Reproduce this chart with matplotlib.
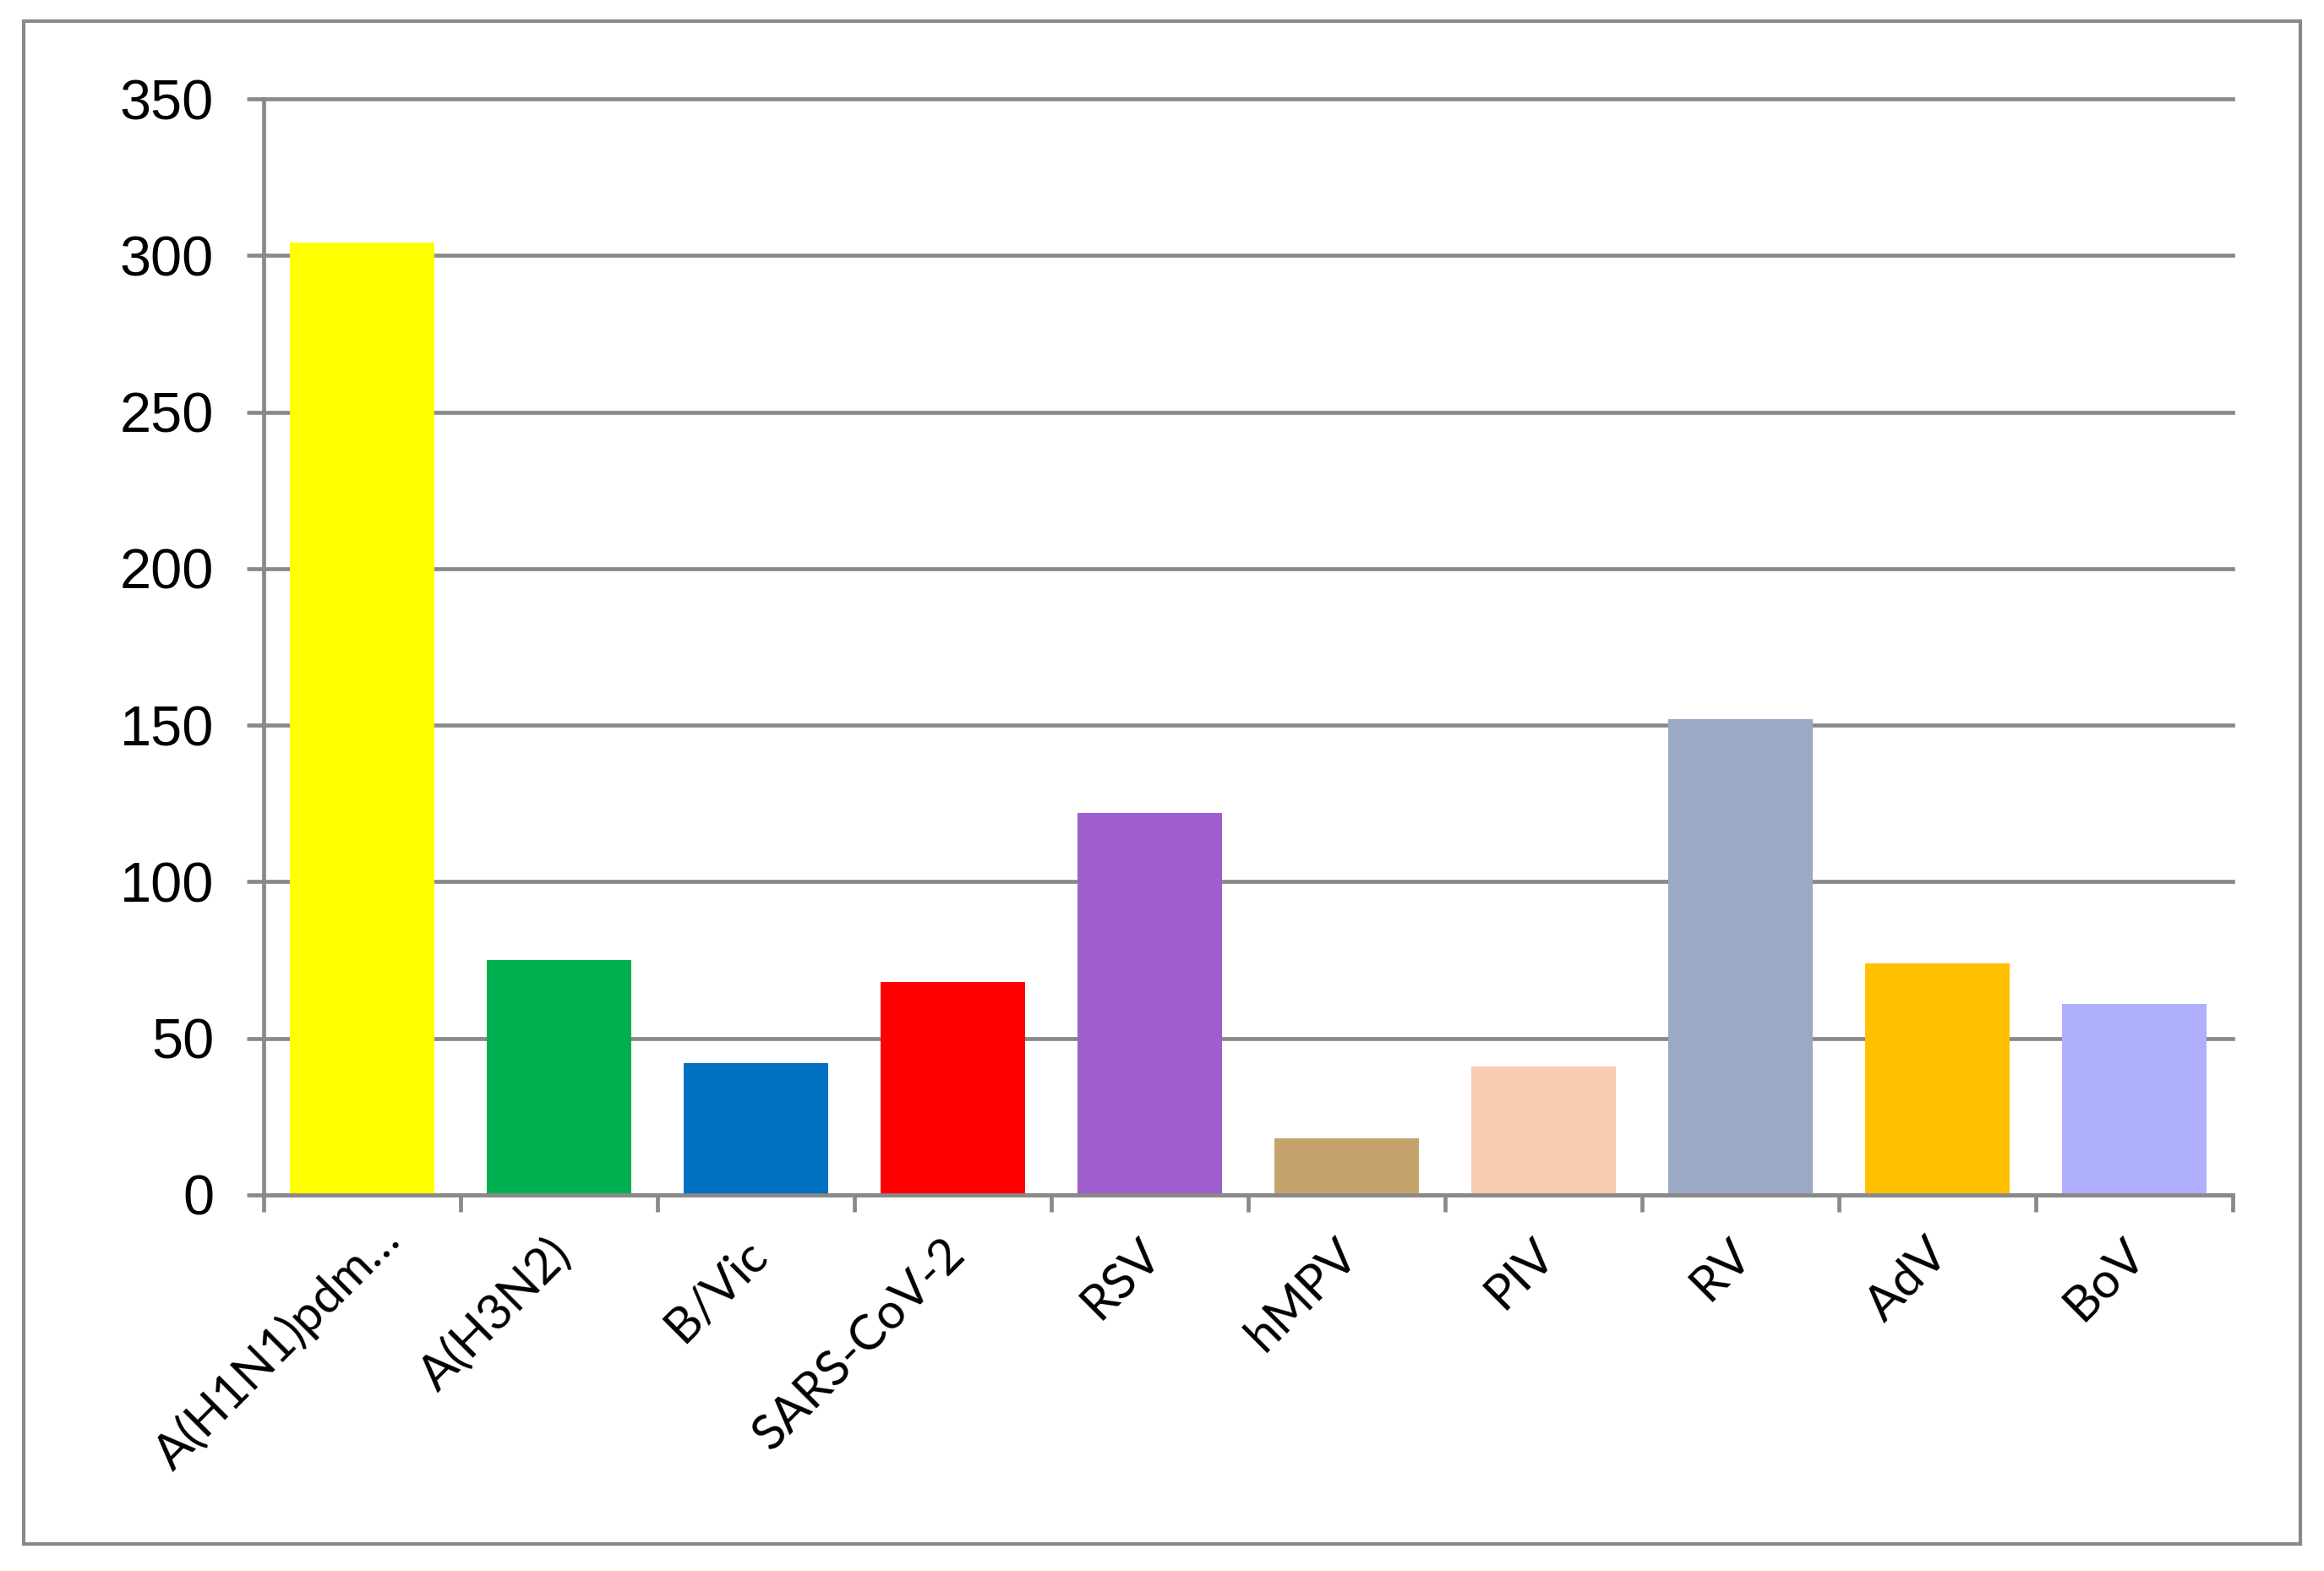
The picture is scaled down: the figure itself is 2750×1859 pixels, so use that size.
import matplotlib
matplotlib.use("Agg")
import matplotlib.pyplot as plt
from matplotlib.patches import Rectangle
from matplotlib.transforms import ScaledTranslation
import numpy as np

categories = ["A(H1N1)pdm…", "A(H3N2)", "B/Vic", "SARS-CoV-2", "RSV",
              "hMPV", "PIV", "RV", "AdV", "BoV"]
values = [304, 75, 42, 68, 122, 18, 41, 152, 74, 61]
colors = ["#FFFF00", "#00B050", "#0070C0", "#FF0000", "#9E5ECD",
          "#C4A46C", "#F7CBAD", "#9CA9C4", "#FFC000", "#AFAFFD"]
yticks = [0, 50, 100, 150, 200, 250, 300, 350]

GRAY = "#898989"
DPI = 200
W, H = 2750, 1859
fig = plt.figure(figsize=(W / DPI, H / DPI), dpi=DPI)
fig.patch.set_facecolor("white")

# outer border
fig.add_artist(Rectangle((28 / W, 1 - 1827 / H), (2722 - 28) / W, (1827 - 25) / H,
                         transform=fig.transFigure, fill=False,
                         edgecolor=GRAY, linewidth=1.5))

ax = fig.add_axes([312 / W, 1 - 1414 / H, (2642 - 312) / W, (1414 - 117) / H])
x = np.arange(len(categories))
ax.bar(x, values, width=0.73, color=colors, zorder=3)

ax.set_xlim(-0.5, len(categories) - 0.5)
ax.set_ylim(0, 350)
ax.set_yticks(yticks)
ax.set_yticklabels([str(v) for v in yticks], fontfamily="Liberation Sans", fontsize=24)
ax.grid(axis="y", color=GRAY, linewidth=1.7, zorder=1)
for gl in ax.get_ygridlines():
    gl.set_clip_on(False)
ax.tick_params(axis="y", length=7.2, width=1.7, color=GRAY, pad=14)

ax.set_xticks(x)
ax.set_xticks(np.arange(-0.5, len(categories), 1.0), minor=True)
ax.tick_params(axis="x", which="major", length=0, pad=16)
ax.tick_params(axis="x", which="minor", length=7.2, width=1.7, color=GRAY)
ax.set_xticklabels(categories, rotation=45, ha="right", va="top",
                   rotation_mode="anchor", fontfamily="Lato", fontsize=21)
for i, lbl in enumerate(ax.get_xticklabels()):
    dx, dy = (-14, 2) if i > 0 else (16, 20)
    lbl.set_transform(lbl.get_transform() +
                      ScaledTranslation(dx / DPI, dy / DPI, fig.dpi_scale_trans))

for s in ["top", "right"]:
    ax.spines[s].set_visible(False)
for s in ["left", "bottom"]:
    ax.spines[s].set_color(GRAY)
    ax.spines[s].set_linewidth(1.7)
    ax.spines[s].set_zorder(4)

fig.savefig("out.png", dpi=DPI, facecolor="white")
